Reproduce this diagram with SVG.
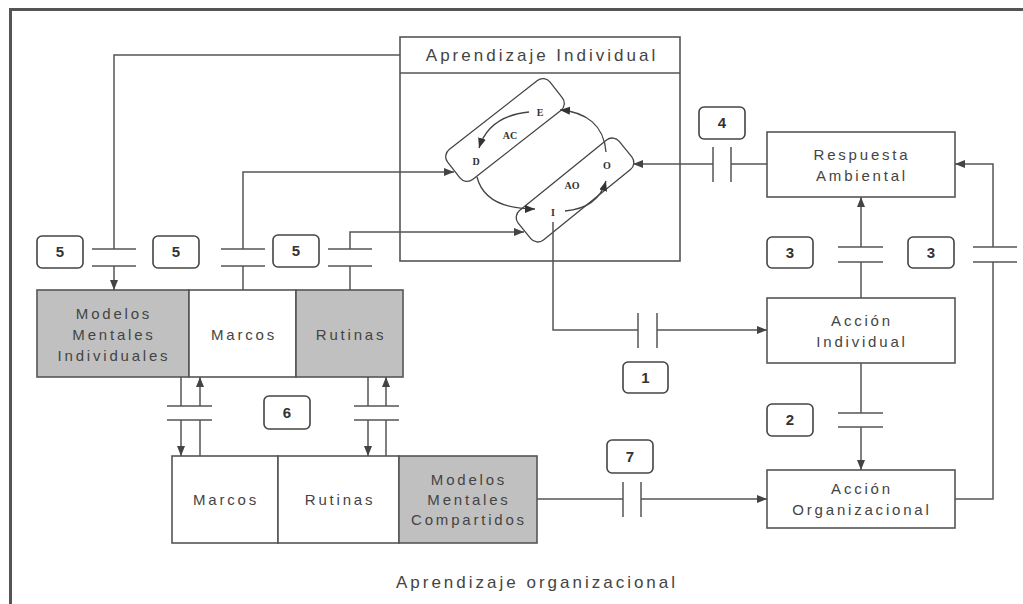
<svg xmlns="http://www.w3.org/2000/svg" width="1023" height="604" viewBox="0 0 1023 604">
<style>
.frame{fill:none;stroke:#555;stroke-width:3}
.box{fill:#fff;stroke:#555;stroke-width:1.6}
.gray{fill:#c0c0c0;stroke:#555;stroke-width:1.6}
.ln{fill:none;stroke:#555;stroke-width:1.5}
.br{fill:none;stroke:#555;stroke-width:1.5}
.arr{marker-end:url(#ah)}
.cyc{fill:none;stroke:#444;stroke-width:1.3}
.carr{marker-end:url(#ahs)}
.t{font-family:"Liberation Sans",Arial,sans-serif;font-size:15px;fill:#444;text-anchor:middle;letter-spacing:2.8px}
.tt{font-family:"Liberation Sans",Arial,sans-serif;font-size:17px;fill:#444;text-anchor:middle;letter-spacing:3px}
.lb{fill:#fff;stroke:#444;stroke-width:1.6}
.lt{font-family:"Liberation Sans",Arial,sans-serif;font-size:15px;font-weight:bold;fill:#333;text-anchor:middle}
.ct{font-family:"Liberation Serif","Times New Roman",serif;font-size:10px;font-weight:bold;fill:#333;text-anchor:middle}
</style>
<defs>
<marker id="ah" markerUnits="userSpaceOnUse" markerWidth="10" markerHeight="10" viewBox="0 0 10 10" refX="10" refY="5" orient="auto">
<path d="M0,1 L10,5 L0,9 Z" fill="#444"/>
</marker>
<marker id="ahs" markerUnits="userSpaceOnUse" markerWidth="10" markerHeight="10" viewBox="0 0 10 10" refX="10" refY="5" orient="auto">
<path d="M0,1 L10,5 L0,9 Z" fill="#333"/>
</marker>
</defs>

<path class="frame" d="M10.5,604 V9.5 H1023"/>

<g id="aprendizaje-individual">
<rect class="box" x="400" y="37" width="280" height="224"/>
<line class="ln" x1="400" y1="73" x2="680" y2="73"/>
<text class="tt" x="542" y="61">Aprendizaje Individual</text>
</g>

<g id="ciclo">
<rect class="cyc" x="-65" y="-19" width="130" height="38" rx="9" transform="translate(505,130) rotate(-38)"/>
<rect class="cyc" x="-65" y="-19" width="130" height="38" rx="9" transform="translate(575,190) rotate(-39)"/>
<path class="cyc carr" d="M529,112 Q489,116 479,148"/>
<path class="cyc carr" d="M477,177 C483,201 506,209 535,209"/>
<path class="cyc carr" d="M565,211 Q598,208 606,181"/>
<path class="cyc carr" d="M606,152 C604,125 586,112 560,110"/>
<text class="ct" x="540" y="116">E</text>
<text class="ct" x="476" y="165">D</text>
<text class="ct" x="607" y="169">O</text>
<text class="ct" x="553" y="216">I</text>
<text class="ct" x="510" y="139">AC</text>
<text class="ct" x="572" y="189">AO</text>
</g>

<g id="respuesta-ambiental">
<rect class="box" x="767" y="132" width="188" height="65"/>
<text class="t" x="862" y="160">Respuesta</text>
<text class="t" x="862" y="181">Ambiental</text>
</g>
<g id="accion-individual">
<rect class="box" x="767" y="298" width="188" height="65"/>
<text class="t" x="862" y="326">Acción</text>
<text class="t" x="862" y="347">Individual</text>
</g>
<g id="accion-organizacional">
<rect class="box" x="767" y="470" width="188" height="58"/>
<text class="t" x="862" y="494">Acción</text>
<text class="t" x="862" y="515">Organizacional</text>
</g>

<g id="modelos-mentales-individuales">
<rect class="gray" x="37" y="290" width="152" height="87"/>
<text class="t" x="114" y="319">Modelos</text>
<text class="t" x="114" y="340">Mentales</text>
<text class="t" x="114" y="361">Individuales</text>
</g>
<g id="marcos-individual">
<rect class="box" x="189" y="290" width="107" height="87"/>
<text class="t" x="244" y="340">Marcos</text>
</g>
<g id="rutinas-individual">
<rect class="gray" x="296" y="290" width="107" height="87"/>
<text class="t" x="351" y="340">Rutinas</text>
</g>

<g id="marcos-organizacional">
<rect class="box" x="172" y="456" width="106" height="87"/>
<text class="t" x="226" y="505">Marcos</text>
</g>
<g id="rutinas-organizacional">
<rect class="box" x="278" y="456" width="121" height="87"/>
<text class="t" x="340" y="505">Rutinas</text>
</g>
<g id="modelos-mentales-compartidos">
<rect class="gray" x="399" y="456" width="138" height="87"/>
<text class="t" x="469" y="485">Modelos</text>
<text class="t" x="469" y="505">Mentales</text>
<text class="t" x="469" y="525">Compartidos</text>
</g>

<g id="aprendizaje-organizacional">
<text class="tt" x="537" y="588">Aprendizaje organizacional</text>
</g>

<g id="connectors">
<!-- 5 -->
<path class="ln" d="M400,55 H114 V249"/>
<path class="ln arr" d="M114,266 V290"/>
<path class="br" d="M92,249 H136 M92,266 H136"/>
<path class="ln" d="M243,290 V266"/>
<path class="ln arr" d="M243,249 V172 H454"/>
<path class="br" d="M221,249 H265 M221,266 H265"/>
<path class="ln" d="M350,290 V266"/>
<path class="ln arr" d="M350,249 V232 H524"/>
<path class="br" d="M328,249 H372 M328,266 H372"/>
<!-- 6 -->
<path class="ln" d="M181,377 V406"/>
<path class="ln arr" d="M181,420 V456"/>
<path class="ln" d="M200,456 V420"/>
<path class="ln arr" d="M200,406 V377"/>
<path class="br" d="M167,406 H212 M167,420 H212"/>
<path class="ln" d="M368,377 V406"/>
<path class="ln arr" d="M368,420 V456"/>
<path class="ln" d="M386,456 V420"/>
<path class="ln arr" d="M386,406 V377"/>
<path class="br" d="M354,406 H399 M354,420 H399"/>
<!-- 7 -->
<path class="ln" d="M537,499 H623"/>
<path class="br" d="M623,482 V517 M641,482 V517"/>
<path class="ln arr" d="M641,499 H767"/>
<!-- 1 -->
<path class="ln" d="M553,222 V330 H638"/>
<path class="br" d="M638,313 V348 M657,313 V348"/>
<path class="ln arr" d="M657,330 H767"/>
<!-- 4 -->
<path class="ln" d="M767,164 H731"/>
<path class="br" d="M713,147 V182 M731,147 V182"/>
<path class="ln arr" d="M713,164 H633"/>
<!-- 3 -->
<path class="ln" d="M861,298 V262"/>
<path class="ln arr" d="M861,247 V197"/>
<path class="br" d="M838,247 H883 M838,262 H883"/>
<path class="ln" d="M955,499 H993 V262"/>
<path class="ln arr" d="M993,247 V164 H955"/>
<path class="br" d="M973,247 H1017 M973,262 H1017"/>
<!-- 2 -->
<path class="ln" d="M861,363 V413"/>
<path class="ln arr" d="M861,427 V470"/>
<path class="br" d="M838,413 H883 M838,427 H883"/>
</g>

<g id="labels">
<rect class="lb" x="37" y="236" width="46" height="32" rx="5"/><text class="lt" x="60" y="257">5</text>
<rect class="lb" x="153" y="236" width="46" height="32" rx="5"/><text class="lt" x="176" y="257">5</text>
<rect class="lb" x="273" y="235" width="46" height="32" rx="5"/><text class="lt" x="296" y="256">5</text>
<rect class="lb" x="264" y="396" width="46" height="33" rx="5"/><text class="lt" x="287" y="418">6</text>
<rect class="lb" x="607" y="440" width="46" height="33" rx="5"/><text class="lt" x="630" y="462">7</text>
<rect class="lb" x="623" y="362" width="45" height="31" rx="5"/><text class="lt" x="645.5" y="383">1</text>
<rect class="lb" x="699" y="107" width="46" height="32" rx="5"/><text class="lt" x="722" y="128">4</text>
<rect class="lb" x="767" y="237" width="46" height="31" rx="5"/><text class="lt" x="790" y="258">3</text>
<rect class="lb" x="908" y="237" width="46" height="31" rx="5"/><text class="lt" x="931" y="258">3</text>
<rect class="lb" x="767" y="404" width="46" height="32" rx="5"/><text class="lt" x="790" y="425">2</text>
</g>
</svg>
